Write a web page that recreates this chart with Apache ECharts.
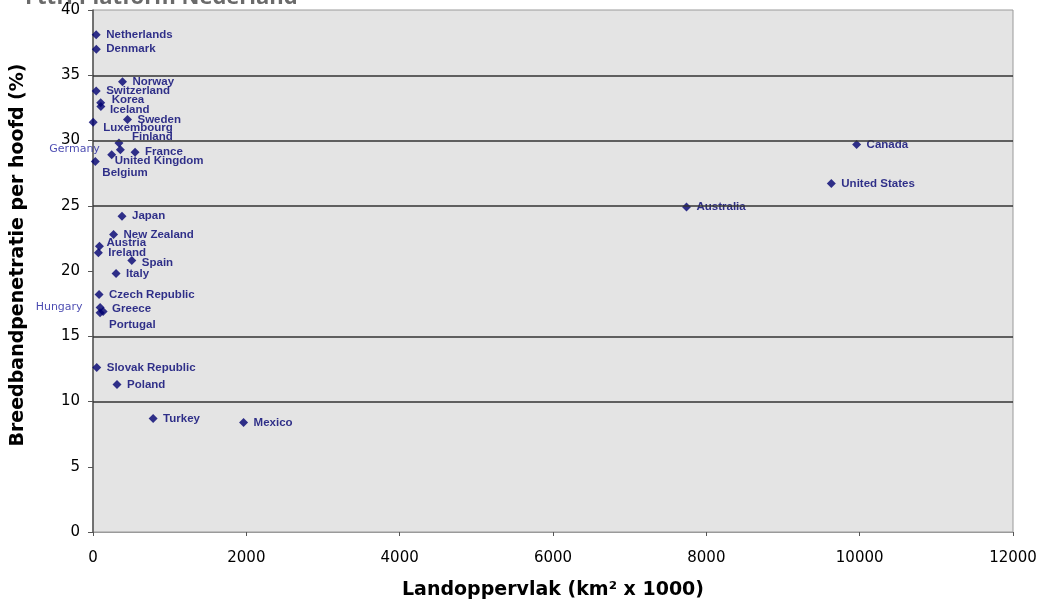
<!DOCTYPE html>
<html>
<head>
<meta charset="utf-8">
<script src="https://cdn.jsdelivr.net/npm/echarts@6/dist/echarts.min.js"></script>
<style>html,body{margin:0;padding:0;background:#fff;}#c{width:1042px;height:606px;}</style>
</head>
<body>
<div id="c"></div>
<script>
// ---- data ----
const countries = ['Netherlands','Denmark','Norway','Switzerland','Korea','Iceland','Sweden','Luxembourg','Finland','Germany','France','United Kingdom','Belgium','Japan','New Zealand','Austria','Ireland','Spain','Italy','Czech Republic','Hungary','Greece','Portugal','Slovak Republic','Poland','Turkey','Mexico','Australia','United States','Canada'];
const areas = [41.5, 43.1, 385, 41.3, 100, 103, 450, 2.6, 338, 357, 549, 244, 30.5, 378, 268, 84, 70, 506, 301, 79, 93, 132, 92, 49, 313, 784, 1964, 7741, 9630, 9960];
const penetration = [38.1, 37.0, 34.5, 33.8, 32.9, 32.6, 31.6, 31.4, 29.8, 29.3, 29.1, 28.9, 28.4, 24.2, 22.8, 21.9, 21.4, 20.8, 19.8, 18.2, 17.2, 16.9, 16.8, 12.6, 11.3, 8.7, 8.4, 24.9, 26.7, 29.7];
const xTicks = [0, 2000, 4000, 6000, 8000, 10000, 12000];
const yTicks = [0, 5, 10, 15, 20, 25, 30, 35, 40];
const gridValues = [10, 15, 25, 30, 35];
const xTitle = 'Landoppervlak (km² x 1000)';
const yTitle = 'Breedbandpenetratie per hoofd (%)';
const chartTitle = 'FttH Platform Nederland';

// ---- label placement tweaks (styling only) ----
const leftFont = { fontFamily: 'DejaVu Sans', fontWeight: 'normal', fontSize: 11, color: '#1c1c9c' };
const leftLabels = {
  'Germany': Object.assign({ position: 'left', distance: 16 }, leftFont),
  'Hungary': Object.assign({ position: 'left', distance: 13 }, leftFont)
};
const labelShift = {
  'Korea': [1, -3],
  'Iceland': [-1, 3],
  'Luxembourg': [0, 6],
  'Finland': [3, -6],
  'United Kingdom': [-7, 6],
  'Belgium': [-3, 11],
  'Austria': [-3, -3],
  'Spain': [0, 2],
  'Greece': [-1, -3],
  'Portugal': [-1, 12]
};

const seriesData = countries.map((c, i) => {
  const d = { name: c, value: [areas[i], penetration[i]] };
  if (leftLabels[c]) d.label = leftLabels[c];
  return d;
});

const chart = echarts.init(document.getElementById('c'), null, { renderer: 'canvas' });
const axisLabelStyle = { fontFamily: 'DejaVu Sans', fontSize: 15, color: '#000' };

chart.setOption({
  animation: false,
  backgroundColor: '#fff',
  grid: {
    left: 93, right: 29, top: 10, bottom: 74,
    show: true, backgroundColor: '#e4e4e4', borderColor: '#9a9a9a', borderWidth: 1
  },
  xAxis: {
    type: 'value', min: xTicks[0], max: xTicks[xTicks.length - 1], interval: 2000,
    axisLine: { show: true, lineStyle: { color: '#9a9a9a', width: 1 } },
    axisTick: { show: true, length: 4, lineStyle: { color: '#555' } },
    axisLabel: Object.assign({ margin: 19, formatter: v => String(v) }, axisLabelStyle),
    splitLine: { show: false }
  },
  yAxis: {
    type: 'value', min: yTicks[0], max: yTicks[yTicks.length - 1], interval: 5,
    axisLine: { show: true, lineStyle: { color: '#555', width: 1.5 } },
    axisTick: { show: true, length: 5, lineStyle: { color: '#555' } },
    axisLabel: Object.assign({ margin: 13, formatter: v => String(v) }, axisLabelStyle),
    splitLine: { show: false }
  },
  graphic: [
    {
      type: 'text', x: 25, y: -13, silent: true,
      style: { text: chartTitle, font: 'bold 22px "Open Sans"', fill: '#6a6a6a' }
    },
    {
      type: 'text', x: 553, y: 590, silent: true,
      style: { text: xTitle, font: 'bold 19px "DejaVu Sans"', fill: '#000', align: 'center', verticalAlign: 'middle' }
    },
    {
      type: 'text', x: 18, y: 255, rotation: Math.PI / 2, silent: true,
      style: { text: yTitle, font: 'bold 19px "DejaVu Sans"', fill: '#000', align: 'center', verticalAlign: 'middle' }
    }
  ],
  series: [{
    type: 'scatter',
    symbol: 'diamond',
    symbolSize: 9,
    itemStyle: { color: '#000070' },
    data: seriesData,
    label: {
      show: true, position: 'right', distance: 5.5, formatter: '{b}',
      fontFamily: 'Liberation Sans', fontWeight: 'bold', fontSize: 11.5, color: '#000070'
    },
    labelLayout: function (params) {
      const s = labelShift[countries[params.dataIndex]];
      return s ? { dx: s[0], dy: s[1], hideOverlap: false } : { hideOverlap: false };
    },
    markLine: {
      silent: true, symbol: 'none', label: { show: false },
      lineStyle: { color: '#333', width: 1.5, type: 'solid' },
      data: gridValues.map(v => ({ yAxis: v }))
    },
    z: 3
  }]
});
</script>
</body>
</html>
